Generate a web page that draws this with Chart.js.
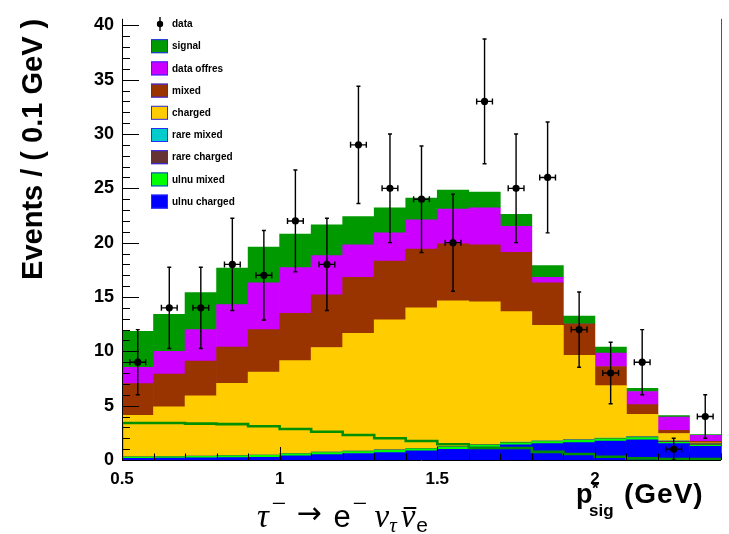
<!DOCTYPE html>
<html><head><meta charset="utf-8">
<script src="https://cdn.jsdelivr.net/npm/chart.js@4.4.0/dist/chart.umd.min.js"></script>
<style>html,body{margin:0;padding:0;background:#fff;}#wrap{width:729px;height:534px;position:relative;}</style>
</head><body><div id="wrap"><canvas id="c" width="729" height="534"></canvas></div>
<script>
// ---- data ----
const binCenters = [0.55,0.65,0.75,0.85,0.95,1.05,1.15,1.25,1.35,1.45,1.55,1.65,1.75,1.85,1.95,2.05,2.15,2.25,2.35];
const dataCounts = [9,14,14,18,17,22,18,29,25,24,20,33,25,26,12,8,9,1,4];
const dataErrors = [3,3.74,3.74,4.24,4.12,4.69,4.24,5.39,5,4.9,4.47,5.74,5,5.1,3.46,2.83,3,1,2];
const ulnuCharged = [0.15,0.18,0.2,0.22,0.24,0.39,0.5,0.6,0.69,0.84,0.99,1.2,1.4,1.5,1.6,1.74,1.86,1.5,1.26];
const ulnuMixed   = [0.12,0.12,0.14,0.16,0.18,0.18,0.19,0.18,0.2,0.18,0.2,0.18,0.18,0.2,0.2,0.2,0.2,0.12,0.12];
const rareCharged = [0.02,0.02,0.02,0.03,0.03,0.03,0.03,0.03,0.04,0.04,0.04,0.05,0.05,0.05,0.05,0.06,0.08,0.12,0.12];
const rareMixed   = [0.01,0.01,0.01,0.01,0.01,0.01,0.01,0.01,0.01,0.02,0.02,0.02,0.02,0.02,0.02,0.02,0.02,0.02,0.02];
const charged     = [3.8,4.57,5.53,6.63,7.64,8.54,9.62,10.83,11.96,12.92,13.4,13.11,12.01,10.63,7.77,4.83,2.04,0.68,0.05];
const mixed       = [2.93,3.0,3.2,3.35,3.9,4.35,4.85,5.15,5.4,5.4,5.25,5.24,5.44,3.9,2.86,1.75,0.9,0.3,0.15];
const dataOffres  = [1.5,2.1,2.9,3.9,4.3,4.2,3.6,3.0,2.6,2.7,3.2,3.4,2.4,0.5,0,1.25,1.2,1.2,0.55];
const signal      = [3.3,3.4,3.4,3.35,3.3,3.1,2.85,2.6,2.3,2.0,1.75,1.45,1.1,1.1,0.75,0.55,0.3,0.15,0.08];
const xTickLabels = [0.5,1,1.5,2];
const yTickLabels = [0,5,10,15,20,25,30,35,40];
const legendNames = ['data','signal','data offres','mixed','charged','rare mixed','rare charged','ulnu mixed','ulnu charged'];

const binHalf = 0.05;
const xErrHalf = 0.025;
const colors = {signal:'#009900', offres:'#cc00ff', mixed:'#993300', charged:'#ffcc00',
  rareMixed:'#00cccc', rareCharged:'#663333', ulnuMixed:'#00ff00', ulnuCharged:'#0000ff'};
const legendColors = [null, colors.signal, colors.offres, colors.mixed, colors.charged, colors.rareMixed, colors.rareCharged, colors.ulnuMixed, colors.ulnuCharged];

const pts = arr => arr.map((v,i)=>({x:binCenters[i], y:v}));
function barSet(label, arr, color){
  return {type:'bar', label, data:pts(arr), backgroundColor:color, borderWidth:0,
    barPercentage:1.0, categoryPercentage:1.0, stack:'mc', order:0};
}
// signal overlay (histogram outline)
const sigLine = [{x:binCenters[0]-binHalf, y:0}];
signal.forEach((v,i)=>sigLine.push({x:binCenters[i]-binHalf, y:v}));
sigLine.push({x:binCenters[binCenters.length-1]+binHalf, y:signal[signal.length-1]});

const SANS = '"Liberation Sans", Arial, sans-serif';
const SERIF = '"Liberation Serif", "DejaVu Serif", serif';

const decor = {
  id:'decor',
  beforeDatasetDraw(chart, args){
    if (args.index !== 0) return;
    const {ctx, scales:{x,y}} = chart;
    ctx.save();
    ctx.strokeStyle = '#000'; ctx.lineWidth = 1.4;
    dataCounts.forEach((n,i)=>{
      const px = x.getPixelForValue(binCenters[i]);
      const py = y.getPixelForValue(n);
      const yt = y.getPixelForValue(n+dataErrors[i]);
      const yb = y.getPixelForValue(Math.max(0,n-dataErrors[i]));
      const xl = x.getPixelForValue(binCenters[i]-xErrHalf);
      const xr = x.getPixelForValue(binCenters[i]+xErrHalf);
      ctx.beginPath();
      ctx.moveTo(px,yt); ctx.lineTo(px,yb);
      ctx.moveTo(px-2,yt); ctx.lineTo(px+2,yt);
      ctx.moveTo(px-2,yb); ctx.lineTo(px+2,yb);
      ctx.moveTo(xl,py); ctx.lineTo(xr,py);
      ctx.moveTo(xl,py-3); ctx.lineTo(xl,py+3);
      ctx.moveTo(xr,py-3); ctx.lineTo(xr,py+3);
      ctx.stroke();
    });
    ctx.restore();
  },
  afterDraw(chart){
    const {ctx, chartArea:a, scales:{x,y}} = chart;
    ctx.save();
    // frame
    ctx.strokeStyle = '#000'; ctx.lineWidth = 1;
    ctx.beginPath();
    ctx.moveTo(Math.round(a.left)+0.5, a.top); ctx.lineTo(Math.round(a.left)+0.5, a.bottom);
    ctx.moveTo(a.left, Math.round(a.bottom)+0.5); ctx.lineTo(a.right, Math.round(a.bottom)+0.5);
    ctx.stroke();
    ctx.strokeStyle = '#555';
    ctx.beginPath();
    ctx.moveTo(Math.round(a.right)+0.5, a.top); ctx.lineTo(Math.round(a.right)+0.5, a.bottom);
    ctx.stroke();
    // ticks (inward, ROOT style)
    ctx.strokeStyle = '#000'; ctx.lineWidth = 1;
    ctx.beginPath();
    for (let v = 0; v <= 40; v += 1) {
      const py = Math.round(y.getPixelForValue(v))+0.5;
      const len = (v % 5 === 0) ? 17 : 8;
      ctx.moveTo(a.left, py); ctx.lineTo(a.left+len, py);
    }
    for (let k = 5; k <= 24; k++) {
      const v = k/10;
      const px = Math.round(x.getPixelForValue(v))+0.5;
      const len = (k % 5 === 0) ? 13 : 6.5;
      ctx.moveTo(px, a.bottom); ctx.lineTo(px, a.bottom-len);
    }
    ctx.stroke();

    // legend
    const lx = 151, ly0 = 24, dy = 22.2;
    legendNames.forEach((name,i)=>{
      const cy = ly0 + i*dy;
      if (i === 0) {
        ctx.strokeStyle = '#000'; ctx.lineWidth = 1.4;
        ctx.beginPath(); ctx.moveTo(160, cy-7); ctx.lineTo(160, cy+7); ctx.stroke();
        ctx.fillStyle = '#000'; ctx.beginPath(); ctx.arc(160, cy, 3.2, 0, Math.PI*2); ctx.fill();
      } else {
        ctx.fillStyle = legendColors[i];
        ctx.fillRect(lx, cy-7, 17, 14);
        ctx.strokeStyle = '#2a2aff'; ctx.lineWidth = 1;
        ctx.strokeRect(lx+0.5, cy-6.5, 16, 13);
      }
      ctx.fillStyle = '#000';
      ctx.font = 'bold 10px ' + SANS;
      ctx.textBaseline = 'middle'; ctx.textAlign = 'left';
      ctx.fillText(name, 172, cy+0.5);
    });

    // x-axis title p*_sig (GeV)
    ctx.fillStyle = '#000'; ctx.textBaseline = 'alphabetic';
    ctx.font = 'bold 27px ' + SANS;
    ctx.fillText('p', 576, 503);
    ctx.font = 'bold 17px ' + SANS;
    ctx.fillText('*', 592, 494);
    ctx.fillText('sig', 589, 516);
    ctx.font = 'bold 28px ' + SANS;
    try { ctx.letterSpacing = '1px'; } catch(e) {}
    ctx.fillText('(GeV)', 624, 503);
    try { ctx.letterSpacing = '0px'; } catch(e) {}

    // decay formula
    let fx = 257; const base = 527;
    function put(t, font, dyy, gap){ ctx.font = font; ctx.fillText(t, fx, base+dyy); const w = ctx.measureText(t).width; fx += w + (gap||0); return w; }
    const big = 'italic 33px ' + SERIF;
    const sup = '26px ' + SERIF;
    put('\u03C4', big, 0, 3);
    put('\u2212', sup, -15, 10);
    put('\u2192', '30px "DejaVu Sans"', -4, 12);
    put('e', '31px ' + SANS, 0, 2);
    put('\u2212', sup, -15, 7);
    put('\u03BD', big, 0, 0);
    put('\u03C4', 'italic 21px ' + SERIF, 5, 4);
    const nx = fx;
    const nw = put('\u03BD', big, 0, 1);
    ctx.fillRect(nx+3, base-20, nw-2, 2);
    put('e', '21px ' + SANS, 5, 0);
    ctx.restore();
  }
};

const ctx = document.getElementById('c').getContext('2d');
new Chart(ctx, {
  type:'bar',
  data:{ datasets:[
    {type:'scatter', label:'data', data:pts(dataCounts), pointRadius:3.6, pointHoverRadius:3.6,
     backgroundColor:'#000', borderWidth:0, order:-2, stack:'data'},
    {type:'line', label:'signal outline', data:sigLine, stepped:'after', borderColor:'#008f00', borderWidth:2.6,
     pointRadius:0, fill:false, order:-1, stack:'line'},
    barSet('ulnu charged', ulnuCharged, colors.ulnuCharged),
    barSet('ulnu mixed', ulnuMixed, colors.ulnuMixed),
    barSet('rare charged', rareCharged, colors.rareCharged),
    barSet('rare mixed', rareMixed, colors.rareMixed),
    barSet('charged', charged, colors.charged),
    barSet('mixed', mixed, colors.mixed),
    barSet('data offres', dataOffres, colors.offres),
    barSet('signal', signal, colors.signal)
  ]},
  options:{
    responsive:false, animation:false, devicePixelRatio:1,
    layout:{padding:{left:0,right:8,top:10,bottom:0}},
    plugins:{legend:{display:false}, tooltip:{enabled:false}},
    scales:{
      x:{type:'linear', min:0.5, max:2.4, stacked:true, offset:false,
         grid:{display:false, drawTicks:false, tickLength:0}, border:{display:false},
         afterBuildTicks: s => { s.ticks = xTickLabels.map(v=>({value:v})); },
         afterFit: s => { s.height = 74; },
         ticks:{font:{family:SANS, size:17, weight:'bold'}, color:'#000', padding:9, maxRotation:0,
                callback: v => String(Math.round(v*10)/10)}},
      y:{type:'linear', min:0, max:40.6, stacked:true,
         grid:{display:false, drawTicks:false, tickLength:0}, border:{display:false},
         afterBuildTicks: s => { s.ticks = yTickLabels.map(v=>({value:v})); },
         afterFit: s => { s.width = 122; },
         ticks:{font:{family:SANS, size:18, weight:'bold'}, color:'#000', padding:8},
         title:{display:true, text:'Events / ( 0.1 GeV )', align:'end', color:'#000',
                font:{family:SANS, size:29, weight:'bold'}, padding:{top:17,bottom:0}}}
    }
  },
  plugins:[decor]
});
</script></body></html>
